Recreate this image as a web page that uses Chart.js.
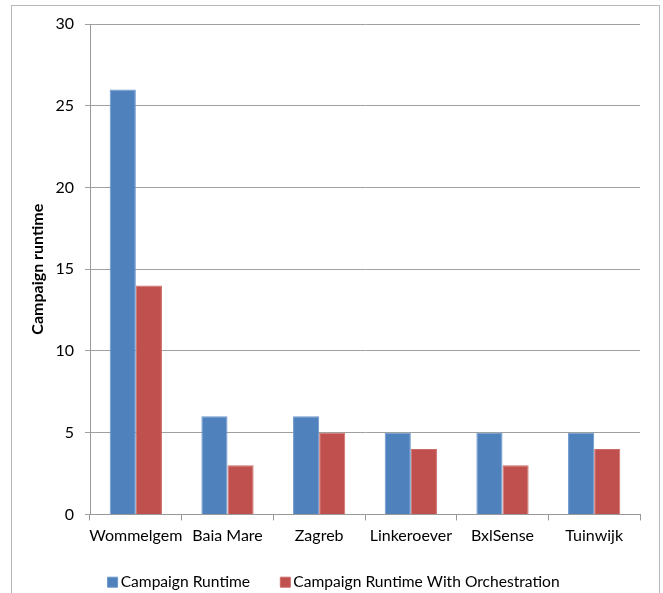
<!DOCTYPE html>
<html>
<head>
<meta charset="utf-8">
<script src="https://cdn.jsdelivr.net/npm/chart.js@4"></script>
<style>
  body { margin: 0; background: #fff; overflow: hidden; }
  #frame { position: absolute; left: 11px; top: 5px; width: 647px; height: 620px; border: 1px solid #b8b8b8; }
  #wrap { position: absolute; left: 0; top: 0; width: 672px; height: 600px; }
</style>
</head>
<body>
<div id="frame"></div>
<div id="wrap"><canvas id="barChart"></canvas></div>
<script>
// chart data
const sites = ['Wommelgem', 'Baia Mare', 'Zagreb', 'Linkeroever', 'BxlSense', 'Tuinwijk'];
const runtime = [26, 6, 6, 5, 5, 5];
const runtimeOrchestration = [14, 3, 5, 4, 3, 4];
const yTicks = [0, 5, 10, 15, 20, 25, 30];

const fontFamily = 'Lato, "Open Sans", sans-serif';

const ctx = document.getElementById('barChart').getContext('2d');
new Chart(ctx, {
    type: 'bar',
    data: {
        labels: sites,
        datasets: [{
            label: 'Campaign Runtime',
            data: runtime,
            backgroundColor: '#4f81bd',
            borderColor: '#6b97cb',
            borderWidth: 1,
            pointStyle: 'rect'
        }, {
            label: 'Campaign Runtime With Orchestration',
            data: runtimeOrchestration,
            backgroundColor: '#c0504d',
            borderColor: '#cc6b68',
            borderWidth: 1,
            pointStyle: 'rect'
        }]
    },
    options: {
        responsive: true,
        maintainAspectRatio: false,
        animation: false,
        datasets: {
            bar: { categoryPercentage: 0.57, barPercentage: 1.0 }
        },
        layout: { padding: { top: 24, right: 32, left: 32, bottom: 0 } },
        plugins: {
            legend: {
                position: 'bottom',
                // empty title with negative padding pulls the legend row up a bit
                title: { display: true, text: '', font: { size: 10 }, padding: { top: -18, bottom: 0 } },
                labels: {
                    color: '#000',
                    font: { family: fontFamily, size: 15.6 },
                    usePointStyle: true,
                    boxWidth: 0.5,
                    boxHeight: 10,
                    padding: 35
                }
            },
            tooltip: { enabled: false }
        },
        scales: {
            x: {
                grid: { display: true, drawOnChartArea: false, color: '#999', tickLength: 6, offset: true },
                border: { color: '#999' },
                ticks: { color: '#000', font: { family: fontFamily, size: 16 }, padding: 6, maxRotation: 0, autoSkip: false },
                afterFit: (axis) => { axis.height = 31; }
            },
            y: {
                min: 0,
                max: 30,
                afterBuildTicks: (axis) => { axis.ticks = yTicks.map(v => ({ value: v })); },
                grid: { color: '#a0a0a0', tickLength: 5 },
                border: { color: '#999' },
                ticks: { color: '#000', font: { family: fontFamily, size: 16 }, padding: 11 },
                title: {
                    display: true,
                    text: 'Campaign runtime',
                    color: '#000',
                    font: { family: fontFamily, size: 16, weight: 'bold' },
                    padding: { top: -4, bottom: 0 }
                },
                afterFit: (axis) => { axis.width = 58; }
            }
        }
    }
});
</script>
</body>
</html>
